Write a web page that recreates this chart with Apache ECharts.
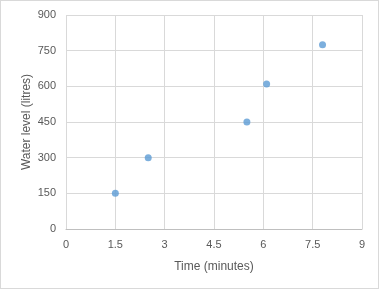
<!DOCTYPE html>
<html><head><meta charset="utf-8">
<script src="https://cdn.jsdelivr.net/npm/echarts@6/dist/echarts.min.js"></script>
<style>html,body{margin:0;padding:0;background:#fff}#c{width:379px;height:289px;box-sizing:border-box;border:1px solid #d9d9d9}</style>
</head><body><div id="c"></div>
<script>
const timeMinutes = [1.5, 2.5, 5.5, 6.1, 7.8];
const waterLevel = [150, 300, 450, 610, 775];
const xTicks = [0, 1.5, 3, 4.5, 6, 7.5, 9];
const yTicks = [0, 150, 300, 450, 600, 750, 900];

const chart = echarts.init(document.getElementById('c'), null, {renderer: 'canvas'});
const font = 'Liberation Sans, Arial, sans-serif';
chart.setOption({
  animation: false,
  grid: {left: 65, right: 16, top: 14, bottom: 59},
  xAxis: {
    type: 'value', min: xTicks[0], max: xTicks[xTicks.length - 1], interval: 1.5,
    name: 'Time (minutes)', nameLocation: 'middle', nameGap: 32, nameMoveOverlap: false,
    nameTextStyle: {color: '#595959', fontSize: 12, fontFamily: font},
    axisLine: {show: true, lineStyle: {color: '#bfbfbf', width: 1}},
    axisTick: {show: false},
    axisLabel: {color: '#595959', fontSize: 11, fontFamily: font, margin: 10},
    splitLine: {show: true, lineStyle: {color: '#d9d9d9', width: 1}}
  },
  yAxis: {
    type: 'value', min: yTicks[0], max: yTicks[yTicks.length - 1], interval: 150,
    name: 'Water level (litres)', nameLocation: 'middle', nameGap: 33, nameMoveOverlap: false,
    nameTextStyle: {color: '#595959', fontSize: 12, fontFamily: font},
    axisLine: {show: false},
    axisTick: {show: false},
    axisLabel: {color: '#595959', fontSize: 11, fontFamily: font, margin: 10},
    splitLine: {show: true, lineStyle: {color: '#d9d9d9', width: 1}}
  },
  series: [{
    type: 'scatter',
    data: timeMinutes.map((t, i) => [t, waterLevel[i]]),
    symbol: 'circle', symbolSize: 7,
    itemStyle: {color: '#5b9bd5'}
  }]
});
</script></body></html>
